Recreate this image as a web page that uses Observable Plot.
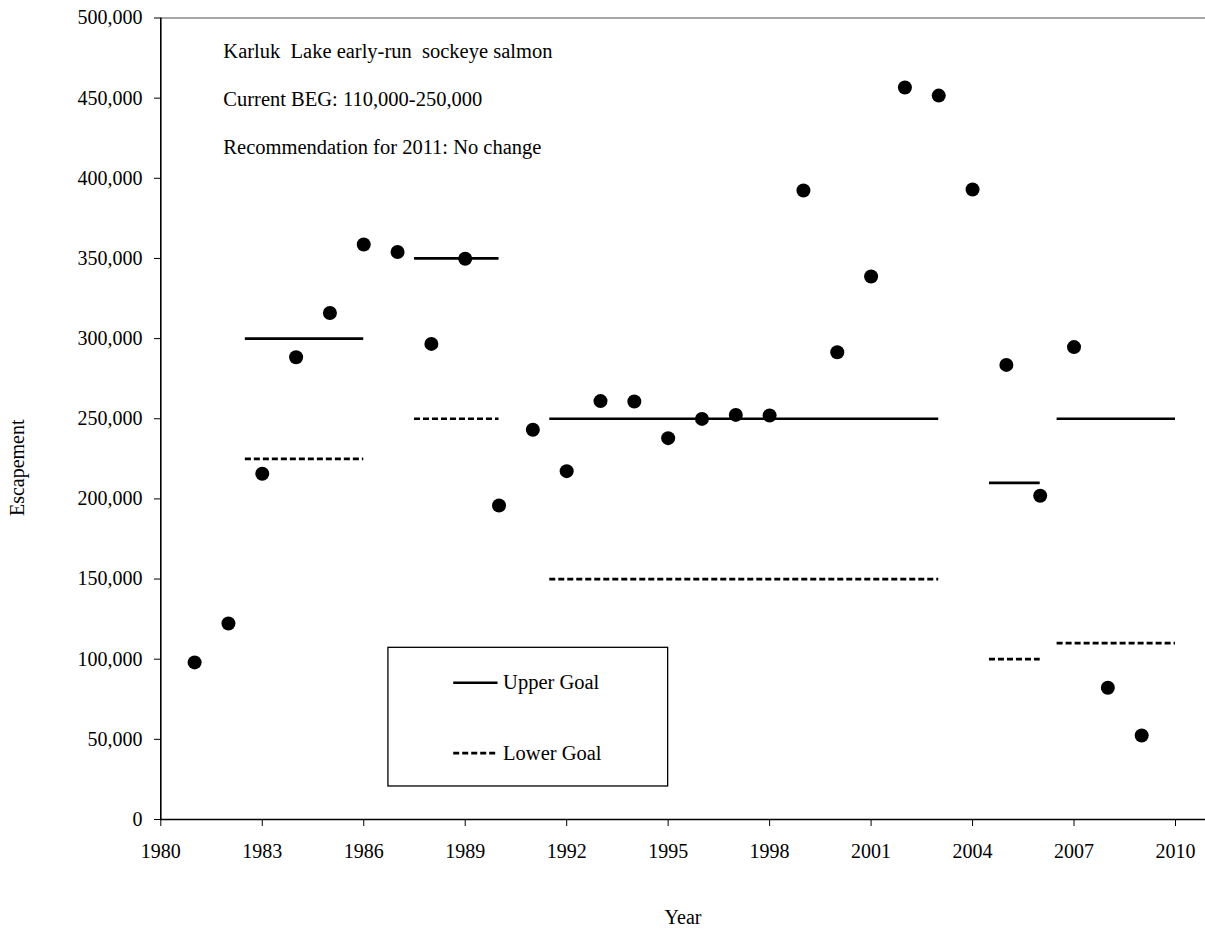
<!DOCTYPE html>
<html>
<head>
<meta charset="utf-8">
<script src="https://cdn.jsdelivr.net/npm/d3@7"></script>
<script src="https://cdn.jsdelivr.net/npm/@observablehq/plot@0.6"></script>
<style>
  body { margin: 0; background: #fff; }
</style>
</head>
<body>
<div id="chart"></div>
<script>
// ---- Data ----
const years = [1981,1982,1983,1984,1985,1986,1987,1988,1989,1990,1991,1992,1993,1994,1995,1996,1997,1998,1999,2000,2001,2002,2003,2004,2005,2006,2007,2008,2009];
const escapement = [98000,122300,215700,288400,316000,358700,354000,296700,349800,195900,243100,217300,261000,260800,237900,249900,252400,252000,392400,291500,338700,456600,451600,393000,283600,202000,294700,82200,52400];

const goalStart = [1982.5,1987.5,1991.5,2004.5,2006.5];
const goalEnd   = [1986,1990,2003,2006,2010];
const upperGoal = [300000,350000,250000,210000,250000];
const lowerGoal = [225000,250000,150000,100000,110000];

const xTicks = [1980,1983,1986,1989,1992,1995,1998,2001,2004,2007,2010];
const yTicks = [0,50000,100000,150000,200000,250000,300000,350000,400000,450000,500000];

const notes = ["Karluk\u00a0 Lake early-run\u00a0 sockeye salmon", "Current BEG: 110,000-250,000", "Recommendation for 2011: No change"];
const legendLabels = ["Upper Goal", "Lower Goal"];

// ---- Build tables ----
const points = years.map((y, i) => ({year: y, value: escapement[i]}));
const upper = goalStart.map((s, i) => ({x1: s, x2: goalEnd[i], y: upperGoal[i]}));
const lower = goalStart.map((s, i) => ({x1: s, x2: goalEnd[i], y: lowerGoal[i]}));

// annotation layout (data coordinates)
const noteX = 1981.85, noteY = [479300, 449100, 419400];
const noteData = notes.map((t, i) => ({t, x: noteX, y: noteY[i]}));

const legendBox = {x1: 1986.73, x2: 1995.0, y1: 20600, y2: 107100};
const legendUpper = [{label: legendLabels[0], y: 85300}];
const legendLower = [{label: legendLabels[1], y: 41400}];

const FONT = "Liberation Serif, Times New Roman, serif";
const DASH = "6,3";
const W = 1205, H = 929;
const chart = Plot.plot({
  width: W,
  height: H,
  marginLeft: 160,
  marginRight: 0,
  marginTop: 17.5,
  marginBottom: 110,
  style: {fontFamily: FONT, fontSize: "20px", color: "#000", background: "#fff"},
  x: {domain: [1980, 2010], range: [160.3, 1175]},
  y: {domain: [0, 500000], range: [819, 17.5]},
  marks: [
    // top border
    Plot.ruleY([500000], {stroke: "#8a8a8a", strokeWidth: 1.3}),
    // axes
    Plot.axisY({ticks: yTicks, tickFormat: d3.format(","), tickSize: 6, tickPadding: 12, label: null, fontSize: 20, fontFamily: FONT, stroke: "#000"}),
    Plot.axisX({ticks: xTicks, tickFormat: d => String(d), tickSize: 7, tickPadding: 17, label: null, fontSize: 20, fontFamily: FONT, stroke: "#000"}),
    Plot.ruleX([1980], {stroke: "#000", strokeWidth: 1.6}),
    Plot.ruleY([0], {stroke: "#000", strokeWidth: 1.6}),
    // goal segments
    Plot.ruleY(upper, {x1: "x1", x2: "x2", y: "y", stroke: "#000", strokeWidth: 2.7}),
    Plot.ruleY(lower, {x1: "x1", x2: "x2", y: "y", stroke: "#000", strokeWidth: 2.7, strokeDasharray: DASH}),
    // escapement points
    Plot.dot(points, {x: "year", y: "value", r: 7, fill: "#000", stroke: "none"}),
    // notes
    Plot.text(noteData, {x: "x", y: "y", text: "t", textAnchor: "start", fontSize: 20.5, fontFamily: FONT, fill: "#000"}),
    // legend
    Plot.rect([legendBox], {x1: "x1", x2: "x2", y1: "y1", y2: "y2", fill: "#fff", stroke: "#000", strokeWidth: 1.3}),
    Plot.ruleY(legendUpper, {x1: 1988.66, x2: 1989.97, y: "y", stroke: "#000", strokeWidth: 2.7}),
    Plot.ruleY(legendLower, {x1: 1988.66, x2: 1989.97, y: "y", stroke: "#000", strokeWidth: 2.7, strokeDasharray: DASH}),
    Plot.text(legendUpper.concat(legendLower), {x: 1990.12, y: "y", text: "label", textAnchor: "start", fontSize: 20.5, fontFamily: FONT, fill: "#000"}),
    // axis titles
    Plot.text(["Escapement"], {frameAnchor: "left", dx: -143, dy: 49, rotate: -90, textAnchor: "middle", lineAnchor: "middle", fontSize: 20, fontFamily: FONT, fill: "#000"}),
    Plot.text(["Year"], {frameAnchor: "bottom", dy: 98, textAnchor: "middle", lineAnchor: "middle", fontSize: 20, fontFamily: FONT, fill: "#000"})
  ]
});
document.getElementById("chart").appendChild(chart);
</script>
</body>
</html>
